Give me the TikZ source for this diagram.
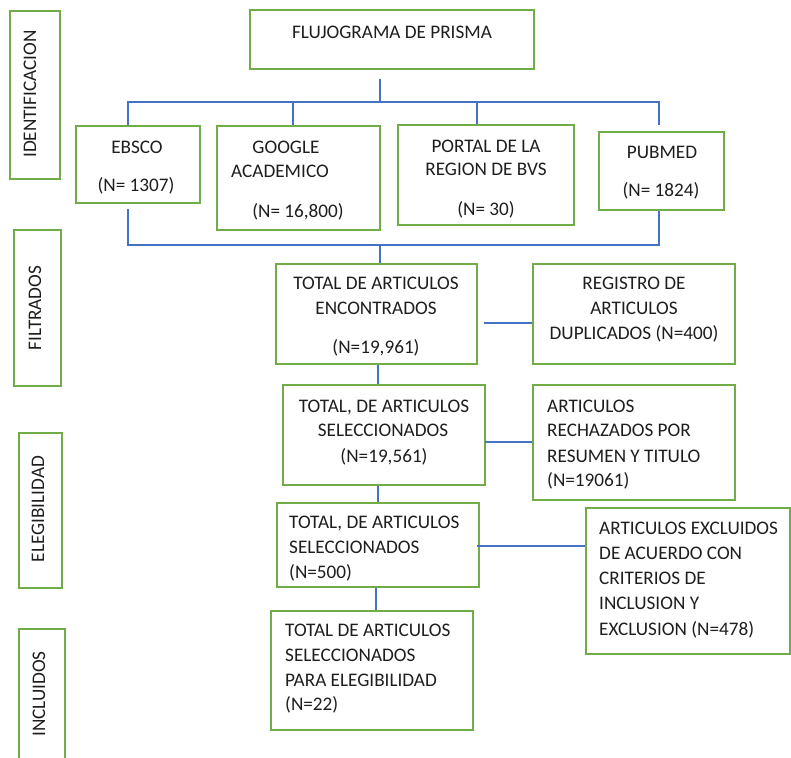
\documentclass[tikz,border=0pt]{standalone}
\usepackage{fontspec}
\setmainfont{Carlito}
\definecolor{boxgreen}{RGB}{112,173,71}
\definecolor{lineblue}{RGB}{68,114,196}
\definecolor{txt}{RGB}{30,30,30}
\begin{document}
\begin{tikzpicture}[x=1pt,y=-1pt,
  box/.style={draw=boxgreen,line width=1.6pt,inner sep=0pt,fill=none},
  lbl/.style={inner sep=0pt,anchor=base,text=txt,font=\fontsize{19.2}{22}\selectfont},
  lbll/.style={lbl,anchor=base west},
  side/.style={inner sep=0pt,rotate=90,text=txt,font=\fontsize{19.2}{22}\selectfont},
  conn/.style={draw=lineblue,line width=1.4pt}]
\clip (0,0) rectangle (791,757);
\fill[white] (0,0) rectangle (791,757);
% boxes
\node[box,minimum width=50,minimum height=168] (ident) at (35,95) {};
\node[box,minimum width=284,minimum height=59] (flujo) at (392,39.5) {};
\node[box,minimum width=124,minimum height=77] (ebsco) at (138,164.5) {};
\node[box,minimum width=163,minimum height=104] (google) at (298.5,178) {};
\node[box,minimum width=176,minimum height=100] (portal) at (486,175) {};
\node[box,minimum width=125,minimum height=78] (pubmed) at (661.5,171) {};
\node[box,minimum width=47,minimum height=156] (filt) at (37.5,308) {};
\node[box,minimum width=201,minimum height=100] (tot1) at (376.5,314) {};
\node[box,minimum width=202,minimum height=100] (regis) at (634,314) {};
\node[box,minimum width=202,minimum height=100] (tot2) at (384,435) {};
\node[box,minimum width=202,minimum height=115] (rech) at (634,442.5) {};
\node[box,minimum width=43,minimum height=155] (eleg) at (40.5,510.5) {};
\node[box,minimum width=202,minimum height=84] (tot3) at (378,545) {};
\node[box,minimum width=204,minimum height=146] (excl) at (688,581) {};
\node[box,minimum width=202,minimum height=119] (tot4) at (372,670.5) {};
\node[box,minimum width=46,minimum height=150] (incl) at (42,704) {};
% side labels
\node[side] (tident) at (30,94) {IDENTIFICACION};
\node[side] (tfilt) at (35,308) {FILTRADOS};
\node[side] (teleg) at (38,509) {ELEGIBILIDAD};
\node[side] (tincl) at (39,694) {INCLUIDOS};
% texts
\node[lbl] (t1) at (392,39) {FLUJOGRAMA DE PRISMA};
\node[lbl] (t2) at (137,153) {EBSCO};
\node[lbl] (t3) at (136,191) {(N= 1307)};
\node[lbl] (t4) at (286,153) {GOOGLE};
\node[lbl] (t5) at (280,177) {ACADEMICO};
\node[lbl] (t6) at (298,217) {(N= 16,800)};
\node[lbl] (t7) at (486,152) {PORTAL DE LA};
\node[lbl] (t8) at (486,175) {REGION DE BVS};
\node[lbl] (t9) at (486,215) {(N= 30)};
\node[lbl] (t10) at (662,158) {PUBMED};
\node[lbl] (t11) at (661,196) {(N= 1824)};
\node[lbl] (t12) at (376,289) {TOTAL DE ARTICULOS};
\node[lbl] (t13) at (376,314) {ENCONTRADOS};
\node[lbl] (t14) at (376,353) {(N=19,961)};
\node[lbl] (t15) at (634,289) {REGISTRO DE};
\node[lbl] (t16) at (634,314) {ARTICULOS};
\node[lbl] (t17) at (634,339) {DUPLICADOS (N=400)};
\node[lbl] (t18) at (384,412) {TOTAL, DE ARTICULOS};
\node[lbl] (t19) at (383,436) {SELECCIONADOS};
\node[lbl] (t20) at (384,462) {(N=19,561)};
\node[lbll] (t21) at (547,412) {ARTICULOS};
\node[lbll] (t22) at (547,436) {RECHAZADOS POR};
\node[lbll] (t23) at (547,462) {RESUMEN Y TITULO};
\node[lbll] (t24) at (547,486) {(N=19061)};
\node[lbll] (t25) at (289,528) {TOTAL, DE ARTICULOS};
\node[lbll] (t26) at (289,553) {SELECCIONADOS};
\node[lbll] (t27) at (289,578) {(N=500)};
\node[lbll] (t28) at (599,534) {ARTICULOS EXCLUIDOS};
\node[lbll] (t29) at (599,559) {DE ACUERDO CON};
\node[lbll] (t30) at (599,584) {CRITERIOS DE};
\node[lbll] (t31) at (599,609) {INCLUSION Y};
\node[lbll] (t32) at (599,635) {EXCLUSION (N=478)};
\node[lbll] (t33) at (285,636) {TOTAL DE ARTICULOS};
\node[lbll] (t34) at (285,661) {SELECCIONADOS};
\node[lbll] (t35) at (285,686) {PARA ELEGIBILIDAD};
\node[lbll] (t36) at (285,710) {(N=22)};
% connectors
\coordinate (top0) at (380,79);
\coordinate (topbar) at (380,102);
\coordinate (tl) at (128,102);
\coordinate (tr) at (659,102);
\coordinate (pubtop) at (659,125);
\draw[conn] (top0) -- (topbar);
\draw[conn] (tl |- ebsco.north) -- (tl) -- (tr) -- (pubtop);
\draw[conn] (293,102) -- (293,0 |- google.north);
\draw[conn] (477,102) -- (477,0 |- portal.north);
\coordinate (bl0) at (128,209);
\coordinate (bl) at (128,245);
\coordinate (br) at (659,245);
\coordinate (bm) at (380,245);
\draw[conn] (bl0) -- (bl) -- (br) -- (br |- pubmed.south);
\draw[conn] (bm) -- (bm |- tot1.north);
\coordinate (c12) at (378,0);
\draw[conn] (c12 |- tot1.south) -- (c12 |- tot2.north);
\coordinate (d1) at (484,323);
\draw[conn] (d1) -- (d1 -| regis.west);
\coordinate (d2) at (485,442);
\draw[conn] (d2) -- (d2 -| rech.west);
\draw[conn] (c12 |- tot2.south) -- (c12 |- tot3.north);
\coordinate (d3) at (477,546);
\draw[conn] (d3) -- (d3 -| excl.west);
\coordinate (c34) at (376,0);
\draw[conn] (c34 |- tot3.south) -- (c34 |- tot4.north);
\end{tikzpicture}
\end{document}
